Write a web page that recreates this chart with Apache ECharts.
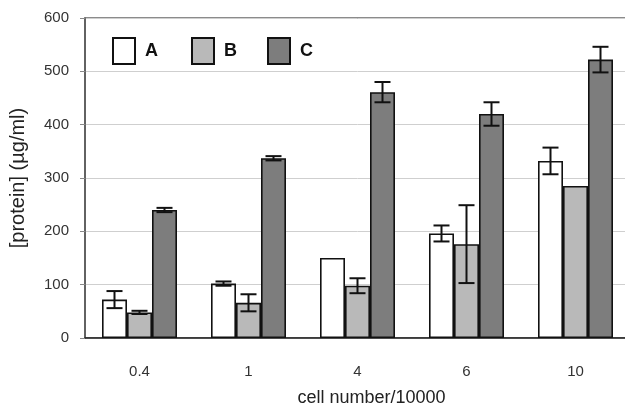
<!DOCTYPE html>
<html>
<head>
<meta charset="utf-8">
<script src="https://cdn.jsdelivr.net/npm/echarts@6/dist/echarts.min.js"></script>
<style>
html,body{margin:0;padding:0;background:#fff;overflow:hidden;width:625px;height:412px;}
#chart{width:631px;height:412px;}
</style>
</head>
<body>
<div id="chart"></div>
<script>
var categories = ['0.4', '1', '4', '6', '10'];
var seriesNames = ['A', 'B', 'C'];
var valuesA = [72, 102, 150, 196, 332];
var valuesB = [48, 66, 98, 176, 285];
var valuesC = [240, 337, 461, 420, 522];
var errA = [16, 4, 0, 15, 25];
var errB = [3, 16, 14, 73, 0];
var errC = [4, 4, 19, 22, 24];
var yTicks = [0, 100, 200, 300, 400, 500, 600];

var BAR_W = 25;
var colors = ['#ffffff', '#b9b9b9', '#7d7d7d'];
var FONT = 'Liberation Sans, Arial, sans-serif';

var allValues = [valuesA, valuesB, valuesC];
var allErr = [errA, errB, errC];

var series = [];
seriesNames.forEach(function (name, si) {
  series.push({
    name: name,
    type: 'bar',
    barWidth: BAR_W,
    barGap: '0%',
    data: allValues[si],
    itemStyle: { color: colors[si], borderColor: '#111', borderWidth: 1.6 },
    z: 2
  });
});

seriesNames.forEach(function (name, si) {
  var data = allValues[si].map(function (v, i) { return [i, v, allErr[si][i]]; });
  series.push({
    type: 'custom',
    name: name + '_err',
    z: 5,
    silent: true,
    data: data,
    encode: { x: 0, y: 1 },
    renderItem: function (params, api) {
      var ci = api.value(0), v = api.value(1), e = api.value(2);
      if (!e) return null;
      var center = api.coord([ci, v]);
      var x = center[0] + (si - 1) * BAR_W;
      var yTop = api.coord([ci, v + e])[1];
      var yBot = api.coord([ci, v - e])[1];
      var half = 8;
      var st = { stroke: '#111', lineWidth: 2 };
      return {
        type: 'group',
        children: [
          { type: 'line', shape: { x1: x, y1: yTop, x2: x, y2: yBot }, style: st },
          { type: 'line', shape: { x1: x - half, y1: yTop, x2: x + half, y2: yTop }, style: st },
          { type: 'line', shape: { x1: x - half, y1: yBot, x2: x + half, y2: yBot }, style: st }
        ]
      };
    }
  });
});

var legendPos = [107, 186, 262];
var legends = seriesNames.map(function (n, i) {
  return {
    data: [n],
    left: legendPos[i],
    top: 32,
    itemWidth: 22,
    itemHeight: 26,
    icon: 'rect',
    selectedMode: false,
    textStyle: { fontSize: 18, fontWeight: 'bold', color: '#111', fontFamily: FONT, padding: [0, 0, 0, 5] }
  };
});

var chart = echarts.init(document.getElementById('chart'), null, { renderer: 'canvas' });
chart.setOption({
  animation: false,
  backgroundColor: '#fff',
  legend: legends,
  grid: {
    left: 84, top: 18, right: 1, height: 324,
    show: true, borderColor: '#666', borderWidth: 1.5, backgroundColor: 'transparent'
  },
  xAxis: {
    type: 'category',
    data: categories,
    boundaryGap: true,
    name: 'cell number/10000',
    nameLocation: 'middle',
    nameGap: 51,
    nameTextStyle: { fontSize: 18, color: '#222', fontFamily: FONT, padding: [0, 0, 0, 28] },
    axisLine: { lineStyle: { color: '#222', width: 1.5 } },
    axisTick: { show: false },
    axisLabel: { fontSize: 15, color: '#333', margin: 26, fontFamily: FONT }
  },
  yAxis: {
    type: 'value',
    min: yTicks[0],
    max: yTicks[yTicks.length - 1],
    interval: 100,
    name: '[protein] (\u00b5g/ml)',
    nameLocation: 'middle',
    nameGap: 57,
    nameTextStyle: { fontSize: 20, color: '#222', fontFamily: FONT },
    axisLine: { show: true, lineStyle: { color: '#555', width: 1.5 } },
    axisTick: { show: true, length: 5, lineStyle: { color: '#888' } },
    axisLabel: { fontSize: 15, color: '#333', margin: 16, fontFamily: FONT },
    splitLine: { show: true, lineStyle: { color: '#cfcfcf', width: 1 } }
  },
  series: series
});
</script>
</body>
</html>
